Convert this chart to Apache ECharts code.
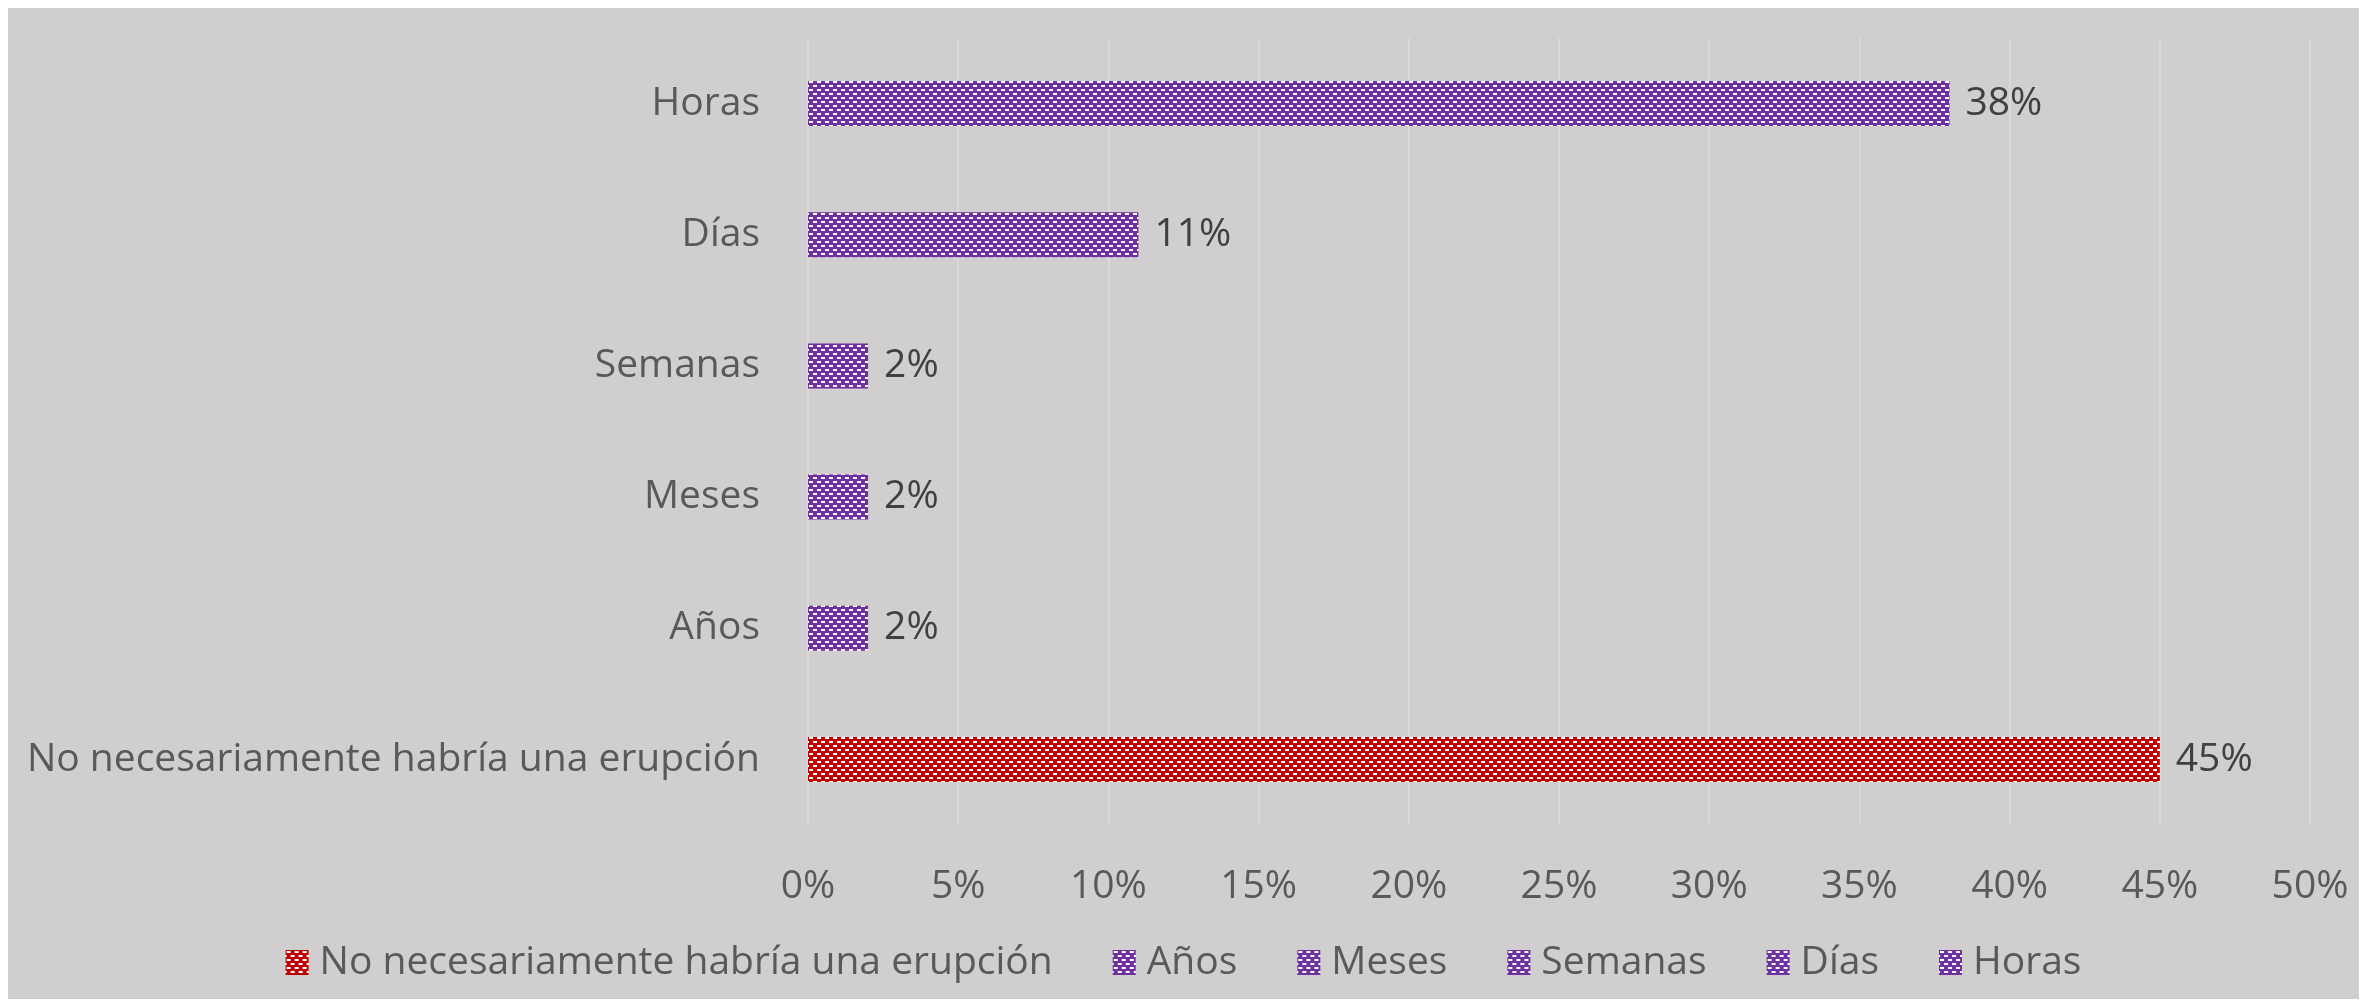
<!DOCTYPE html>
<html>
<head>
<meta charset="utf-8">
<script src="https://cdn.jsdelivr.net/npm/echarts@6/dist/echarts.min.js"></script>
<style>
  html, body { margin: 0; padding: 0; background: #fff; }
  #chart { position: absolute; left: 8px; top: 8px; width: 2351px; height: 991px; }
</style>
</head>
<body>
<div id="chart"></div>
<script>
// categories, bottom to top
var categories = ['No necesariamente habría una erupción', 'Años', 'Meses', 'Semanas', 'Días', 'Horas'];
var values = [45, 2, 2, 2, 11, 38];
var colors = ['#C00000', '#7030A0', '#7030A0', '#7030A0', '#7030A0', '#7030A0'];
var xTicks = [0, 5, 10, 15, 20, 25, 30, 35, 40, 45, 50];

var FONT = 'Open Sans';
var FS = 39;

// brick-like hatch pattern
function brick(color) {
    var c = document.createElement('canvas');
    c.width = 8; c.height = 8;
    var ctx = c.getContext('2d');
    ctx.fillStyle = color;
    ctx.fillRect(0, 0, 8, 8);
    ctx.fillStyle = '#ffffff';
    ctx.fillRect(1, 1, 4, 2);
    ctx.fillRect(5, 5, 4, 2);
    ctx.fillRect(-3, 5, 4, 2);
    return { image: c, repeat: 'repeat' };
}

var series = categories.map(function (name, i) {
    var d = categories.map(function (c, j) { return j === i ? values[i] : null; });
    return {
        name: name,
        type: 'bar',
        stack: 'all',
        barWidth: 45,
        data: d,
        itemStyle: { color: brick(colors[i]) },
        label: {
            show: true,
            position: 'right',
            distance: 16,
            color: '#404040',
            fontFamily: FONT,
            fontSize: FS,
            formatter: function (p) { return p.value == null ? '' : p.value + '%'; }
        }
    };
});

var myChart = echarts.init(document.getElementById('chart'));
var option = {
    backgroundColor: '#D0CECE',
    animation: false,
    grid: { left: 800, right: 49, top: 30, bottom: 174, containLabel: false },
    xAxis: {
        type: 'value',
        min: 0,
        max: 50,
        interval: 5,
        axisLine: { show: false },
        axisTick: { show: false },
        splitLine: { show: true, lineStyle: { color: '#D9D9D9', width: 2 } },
        axisLabel: {
            margin: 42,
            color: '#595959',
            fontFamily: FONT,
            fontSize: FS,
            formatter: function (v) { return xTicks.indexOf(v) >= 0 ? v + '%' : ''; }
        }
    },
    yAxis: {
        type: 'category',
        data: categories,
        axisLine: { show: false },
        axisTick: { show: false },
        axisLabel: {
            margin: 48,
            color: '#595959',
            fontFamily: FONT,
            fontSize: FS
        }
    },
    legend: {
        top: 930,
        left: 'center',
        itemWidth: 23,
        itemHeight: 25,
        itemGap: 60,
        icon: 'rect',
        textStyle: { color: '#595959', fontFamily: FONT, fontSize: FS, padding: [0, 0, 0, 6] },
        data: categories
    },
    series: series
};
option && myChart.setOption(option);
</script>
</body>
</html>
